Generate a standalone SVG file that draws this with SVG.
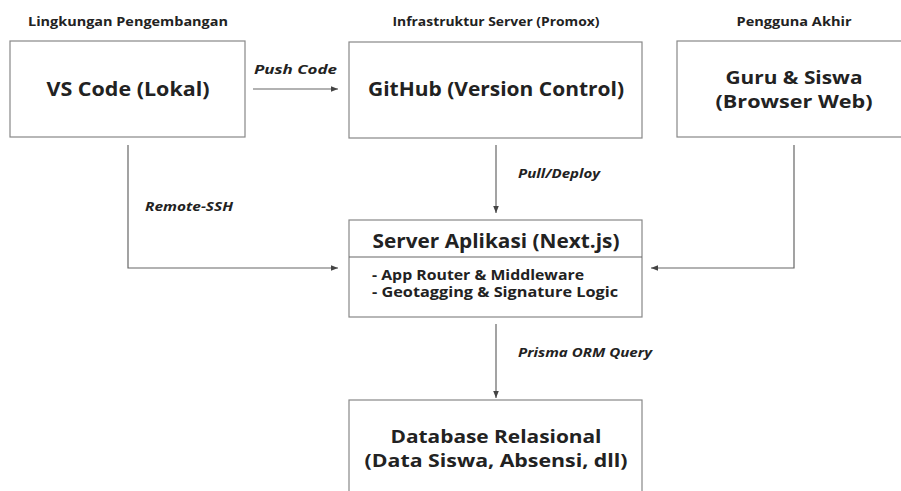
<svg xmlns="http://www.w3.org/2000/svg" width="901" height="491" viewBox="0 0 901 491">
<style>
text{font-family:"Open Sans","Liberation Sans",sans-serif;font-weight:700;fill:#222;}
.hd{font-size:12.5px;text-anchor:middle}
.big{font-size:20px;text-anchor:middle}
.two{font-size:18px;text-anchor:middle}
.lbl{font-size:12.5px;font-style:italic}
.item{font-size:13.5px}
.box{fill:#fff;stroke:#888;stroke-width:1.2}
.ln{fill:none;stroke:#666;stroke-width:1.2}
</style>
<defs>
<marker id="ah" viewBox="0 0 10 10" refX="10" refY="5" markerWidth="7" markerHeight="7" markerUnits="userSpaceOnUse" orient="auto">
<path d="M0,1 L10,5 L0,9 z" fill="#444"/>
</marker>
</defs>
<rect width="901" height="491" fill="#fff"/>
<g id="headers">
<text class="hd" x="128" y="26" textLength="200" lengthAdjust="spacingAndGlyphs">Lingkungan Pengembangan</text>
<text class="hd" x="496" y="26" textLength="207" lengthAdjust="spacingAndGlyphs">Infrastruktur Server (Promox)</text>
<text class="hd" x="794" y="26" textLength="115" lengthAdjust="spacingAndGlyphs">Pengguna Akhir</text>
</g>
<g id="vscode">
<rect class="box" x="10" y="41" width="235" height="96"/>
<text class="big" x="128" y="96" textLength="163" lengthAdjust="spacingAndGlyphs">VS Code (Lokal)</text>
</g>
<g id="github">
<rect class="box" x="349" y="42" width="293" height="96"/>
<text class="big" x="496" y="96" textLength="256" lengthAdjust="spacingAndGlyphs">GitHub (Version Control)</text>
</g>
<g id="users">
<rect class="box" x="677" y="41" width="240" height="96"/>
<text class="two" x="794" y="84" textLength="137" lengthAdjust="spacingAndGlyphs">Guru &amp; Siswa</text>
<text class="two" x="794" y="108" textLength="157" lengthAdjust="spacingAndGlyphs">(Browser Web)</text>
</g>
<g id="server">
<rect class="box" x="349" y="220" width="293" height="97"/>
<line class="ln" x1="349" y1="257" x2="642" y2="257" stroke="#888"/>
<text class="big" x="496" y="248" style="font-size:19px" textLength="247" lengthAdjust="spacingAndGlyphs">Server Aplikasi (Next.js)</text>
<text class="item" x="372" y="280" textLength="212" lengthAdjust="spacingAndGlyphs">- App Router &amp; Middleware</text>
<text class="item" x="372" y="297" textLength="246" lengthAdjust="spacingAndGlyphs">- Geotagging &amp; Signature Logic</text>
</g>
<g id="database">
<rect class="box" x="349" y="400" width="293" height="110"/>
<text class="two" x="496" y="443" textLength="211" lengthAdjust="spacingAndGlyphs">Database Relasional</text>
<text class="two" x="496" y="467" textLength="263" lengthAdjust="spacingAndGlyphs">(Data Siswa, Absensi, dll)</text>
</g>
<g id="connectors">
<line class="ln" x1="253" y1="89" x2="338" y2="89" marker-end="url(#ah)"/>
<text class="lbl" x="254" y="74" textLength="83" lengthAdjust="spacingAndGlyphs">Push Code</text>
<polyline class="ln" points="128,145 128,268 338,268" marker-end="url(#ah)"/>
<text class="lbl" x="145" y="211" textLength="88" lengthAdjust="spacingAndGlyphs">Remote-SSH</text>
<line class="ln" x1="496" y1="145" x2="496" y2="213" marker-end="url(#ah)"/>
<text class="lbl" x="518" y="178" textLength="82" lengthAdjust="spacingAndGlyphs">Pull/Deploy</text>
<polyline class="ln" points="794,145 794,268 651,268" marker-end="url(#ah)"/>
<line class="ln" x1="496" y1="324" x2="496" y2="398" marker-end="url(#ah)"/>
<text class="lbl" x="518" y="357" textLength="134" lengthAdjust="spacingAndGlyphs">Prisma ORM Query</text>
</g>
</svg>
